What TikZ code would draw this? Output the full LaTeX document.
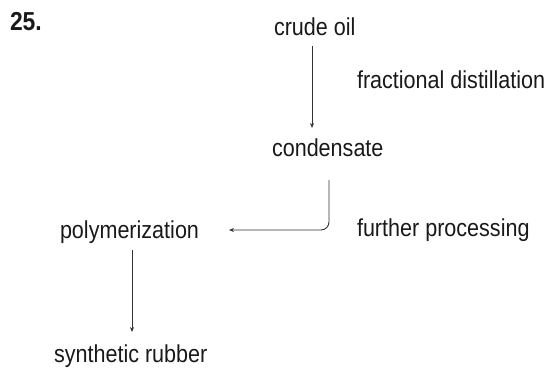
\documentclass[tikz,border=0pt]{standalone}
\usepackage{fontspec}
\setmainfont{Liberation Sans}[FakeStretch=0.88]
\usetikzlibrary{arrows.meta,calc}
\begin{document}
\begin{tikzpicture}[x=1pt,y=-1pt,
  lbl/.style={anchor=base west,inner sep=0pt,outer sep=0pt,font=\fontsize{24.5}{27}\selectfont,text=black!90},
  conn/.style={draw=black!80,line width=0.9pt,-{Stealth[length=5pt,width=4pt]}}]
\useasboundingbox (0,0) rectangle (553,375);
\node[lbl,font=\fontsize{26}{28}\selectfont\bfseries] (num) at (10,30) {25.};
\node[lbl] (crude) at (274,35) {crude oil};
\node[lbl] (frac) at (357,88) {fractional distillation};
\node[lbl] (cond) at (272,156) {condensate};
\node[lbl] (poly) at (60,238) {polymerization};
\node[lbl] (furt) at (357,236) {further processing};
\node[lbl] (synth) at (54,362) {synthetic rubber};
\draw[conn] ($(crude.base west)+(38,11)$) -- ($(crude.base west)+(38,93)$);
\draw[conn,rounded corners=8pt] ($(cond.base west)+(57,24)$) |- ($(poly.base east)+(30,-8)$);
\draw[conn] ($(poly.base west)+(72,12)$) -- ($(poly.base west)+(72,94)$);
\end{tikzpicture}
\end{document}
